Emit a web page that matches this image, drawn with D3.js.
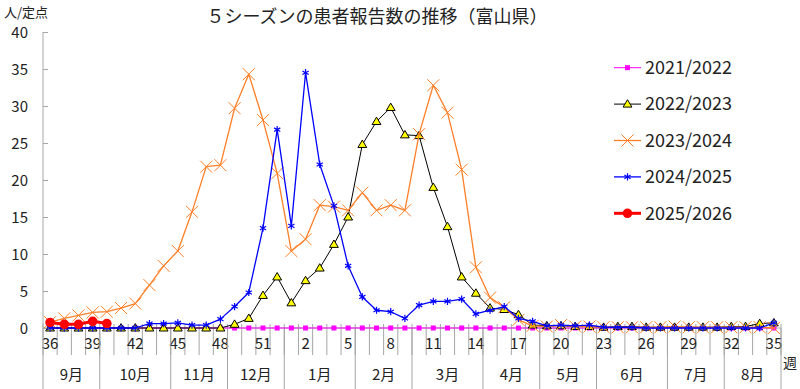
<!DOCTYPE html>
<html>
<head>
<meta charset="utf-8">
<script src="https://cdn.jsdelivr.net/npm/d3@7"></script>
<style>
  body { margin: 0; background: #fff; }
  svg { display: block; font-family: "Noto Sans CJK JP", "Noto Sans", sans-serif; }
</style>
</head>
<body>
<script>
const WIDTH = 800
const HEIGHT = 389

// weeks of the season (week 36 to week 35 of next year)
const weeks = [36, 37, 38, 39, 40, 41, 42, 43, 44, 45, 46, 47, 48, 49, 50, 51, 52,
  1, 2, 3, 4, 5, 6, 7, 8, 9, 10, 11, 12, 13, 14, 15, 16, 17, 18, 19, 20,
  21, 22, 23, 24, 25, 26, 27, 28, 29, 30, 31, 32, 33, 34, 35]

const months = ['9月', '10月', '11月', '12月', '1月', '2月', '3月', '4月', '5月', '6月', '7月', '8月']
const monthWeekCounts = [4, 5, 4, 4, 5, 4, 5, 4, 4, 5, 4, 4]

const yTicks = [0, 5, 10, 15, 20, 25, 30, 35, 40]

const s2122 = [0, 0, 0, 0, 0, 0, 0, 0, 0, 0, 0, 0, 0, 0, 0, 0, 0,
  0, 0, 0, 0, 0, 0, 0, 0, 0, 0, 0, 0, 0, 0, 0, 0, 0, 0, 0, 0,
  0, 0, 0, 0, 0, 0, 0, 0, 0, 0, 0, 0, 0, 0, 0]

const s2223 = [0, 0, 0, 0, 0, 0, 0, 0, 0, 0, 0, 0, 0, 0.5, 1.3, 4.4, 6.9,
  3.4, 6.4, 8.1, 11.3, 15.0, 24.8, 27.9, 29.8, 26.1, 26.0, 19.0, 13.7, 6.9, 4.7, 2.7, 2.5, 1.8, 0.4, 0.3, 0.3,
  0.2, 0.2, 0.1, 0.2, 0.2, 0.1, 0.1, 0.1, 0.1, 0.1, 0.1, 0.2, 0.2, 0.6, 0.7]

const s2324 = [0.8, 1.3, 1.7, 2.1, 2.2, 2.7, 3.3, 5.8, 8.4, 10.4, 15.7, 21.8, 22.0, 29.7, 34.3, 28.1, 20.9,
  10.4, 12.0, 16.6, 16.4, 15.9, 18.3, 15.9, 16.6, 15.9, 26.2, 32.8, 29.1, 21.4, 8.2, 4.1, 2.8, 1.1, 0.3, 0.2, 0.4,
  0.2, 0.2, 0.1, 0.1, 0.1, 0.1, 0.1, 0.2, 0.1, 0.1, 0.1, 0.1, 0.1, 0.1, 0.0]

const s2425 = [0, 0, 0, 0, 0, 0, 0, 0.6, 0.6, 0.7, 0.4, 0.4, 1.2, 2.9, 4.8, 13.5, 26.8,
  13.8, 34.5, 22.1, 16.5, 8.4, 4.2, 2.4, 2.2, 1.3, 3.1, 3.6, 3.6, 3.9, 1.9, 2.4, 2.9, 1.3, 0.9, 0.3, 0.4,
  0.3, 0.4, 0.1, 0.1, 0.1, 0, 0, 0, 0, 0, 0, 0, 0, 0, 0.7]

const s2526 = [0.75, 0.5, 0.5, 0.9, 0.6]

const series = [
  { name: '2021/2022', values: s2122, color: '#FF00FF', width: 1, marker: 'square' },
  { name: '2022/2023', values: s2223, color: '#000000', width: 1, marker: 'triangle' },
  { name: '2023/2024', values: s2324, color: '#FF7F27', width: 1.3, marker: 'cross' },
  { name: '2024/2025', values: s2425, color: '#0000FF', width: 1.3, marker: 'asterisk' },
  { name: '2025/2026', values: s2526, color: '#FF0000', width: 3, marker: 'circle' },
]

const PLOT = { left: 43, right: 781, top: 32, bottom: 328 }
const AXIS_COLOR = '#A6A6A6'

const svg = d3.select('body').append('svg')
  .attr('width', WIDTH)
  .attr('height', HEIGHT)

const x = d3.scaleBand()
  .domain(weeks)
  .range([PLOT.left, PLOT.right])
  .paddingInner(0)
  .paddingOuter(0)

const y = d3.scaleLinear()
  .domain([0, 40])
  .range([PLOT.bottom, PLOT.top])

const cx = w => x(w) + x.bandwidth() / 2

// title
svg.append('text')
  .attr('x', 377)
  .attr('y', 23)
  .attr('text-anchor', 'middle')
  .attr('font-size', 18)
  .attr('fill', '#222')
  .text('５シーズンの患者報告数の推移（富山県）')

// y axis title
svg.append('text')
  .attr('x', 4)
  .attr('y', 17)
  .attr('font-size', 13)
  .attr('fill', '#222')
  .text('人/定点')

// y axis
const yAxis = d3.axisRight(y)
  .tickValues(yTicks)
  .tickSize(5)
  .tickFormat('')

const leftAxis = svg.append('g')
  .attr('transform', `translate(${PLOT.left}, 0)`)
  .call(yAxis)
leftAxis.select('.domain').attr('stroke', AXIS_COLOR).attr('d', `M0,${PLOT.top}V${PLOT.bottom}`)
leftAxis.selectAll('.tick line').attr('stroke', AXIS_COLOR)

svg.append('g').selectAll('text')
  .data(yTicks)
  .enter()
  .append('text')
  .attr('x', 28)
  .attr('y', d => y(d) + 0.5)
  .attr('dy', '0.35em')
  .attr('text-anchor', 'end')
  .attr('font-size', 15)
  .attr('fill', '#222')
  .text(d => d)

// x axis: week boundaries
const xg = svg.append('g')
const bounds = weeks.map(w => x(w)).concat([PLOT.right])

xg.selectAll('line.wk')
  .data(bounds)
  .enter()
  .append('line')
  .attr('class', 'wk')
  .attr('x1', d => d)
  .attr('x2', d => d)
  .attr('y1', PLOT.bottom - 4)
  .attr('y2', 355)
  .attr('stroke', AXIS_COLOR)

xg.append('line')
  .attr('x1', PLOT.left)
  .attr('x2', PLOT.right)
  .attr('y1', PLOT.bottom)
  .attr('y2', PLOT.bottom)
  .attr('stroke', AXIS_COLOR)

xg.selectAll('text.wk')
  .data(weeks.filter((w, i) => i % 3 === 0))
  .enter()
  .append('text')
  .attr('class', 'wk')
  .attr('x', d => cx(d))
  .attr('y', 344)
  .attr('dy', '0.35em')
  .attr('text-anchor', 'middle')
  .attr('font-size', 15)
  .attr('fill', '#222')
  .text(d => d)

// month groups
let start = 0
const monthSpans = months.map((m, i) => {
  const a = x(weeks[start])
  start += monthWeekCounts[i]
  const b = start < weeks.length ? x(weeks[start]) : PLOT.right
  return { name: m, a, b }
})

xg.selectAll('line.mon')
  .data([PLOT.left].concat(monthSpans.map(d => d.b)))
  .enter()
  .append('line')
  .attr('class', 'mon')
  .attr('x1', d => d)
  .attr('x2', d => d)
  .attr('y1', PLOT.bottom)
  .attr('y2', HEIGHT)
  .attr('stroke', AXIS_COLOR)

xg.selectAll('text.mon')
  .data(monthSpans)
  .enter()
  .append('text')
  .attr('class', 'mon')
  .attr('x', d => (d.a + d.b) / 2)
  .attr('y', 375)
  .attr('dy', '0.35em')
  .attr('text-anchor', 'middle')
  .attr('font-size', 15)
  .attr('fill', '#222')
  .text(d => d.name)

svg.append('text')
  .attr('x', 783)
  .attr('y', 363)
  .attr('dy', '0.35em')
  .attr('font-size', 14)
  .attr('fill', '#222')
  .text('週')

// markers
function drawMarker(g, type, color) {
  if (type === 'square') {
    g.append('rect').attr('x', -2.5).attr('y', -2.5).attr('width', 5).attr('height', 5)
      .attr('fill', color)
  } else if (type === 'triangle') {
    g.append('path').attr('d', 'M0,-4.4L4.4,3L-4.4,3Z')
      .attr('fill', '#FFFF00').attr('stroke', '#000').attr('stroke-width', 1)
  } else if (type === 'cross') {
    g.append('path').attr('d', 'M-6,-6L6,6M-6,6L6,-6')
      .attr('stroke', color).attr('stroke-width', 1).attr('fill', 'none')
  } else if (type === 'asterisk') {
    g.append('path').attr('d', d3.symbol(d3.symbolAsterisk, 36)())
      .attr('stroke', color).attr('stroke-width', 1.2).attr('fill', 'none')
  } else if (type === 'circle') {
    g.append('circle').attr('r', 4.8).attr('fill', color)
  }
}

const line = d3.line()
  .x(d => cx(d.w))
  .y(d => y(d.v))

const plot = svg.append('g')

series.forEach(s => {
  const pts = s.values.map((v, i) => ({ w: weeks[i], v }))
  plot.append('path')
    .datum(pts)
    .attr('fill', 'none')
    .attr('stroke', s.color)
    .attr('stroke-width', s.width)
    .attr('stroke-linejoin', 'round')
    .attr('d', line)
  plot.append('g').selectAll('g')
    .data(pts)
    .enter()
    .append('g')
    .attr('transform', d => `translate(${cx(d.w)},${y(d.v)})`)
    .each(function () { drawMarker(d3.select(this), s.marker, s.color) })
})

// legend
const legend = svg.append('g')
const legendRows = legend.selectAll('g')
  .data(series)
  .enter()
  .append('g')
  .attr('transform', (d, i) => `translate(614, ${67.7 + i * 36.4})`)

legendRows.append('line')
  .attr('x1', 0).attr('x2', 27)
  .attr('stroke', d => d.color)
  .attr('stroke-width', d => d.width)

legendRows.append('g')
  .attr('transform', 'translate(13.5,0)')
  .each(function (d) { drawMarker(d3.select(this), d.marker, d.color) })

legendRows.append('text')
  .attr('x', 31)
  .attr('dy', '0.35em')
  .attr('font-size', 18)
  .attr('fill', '#222')
  .text(d => d.name)
</script>
</body>
</html>
